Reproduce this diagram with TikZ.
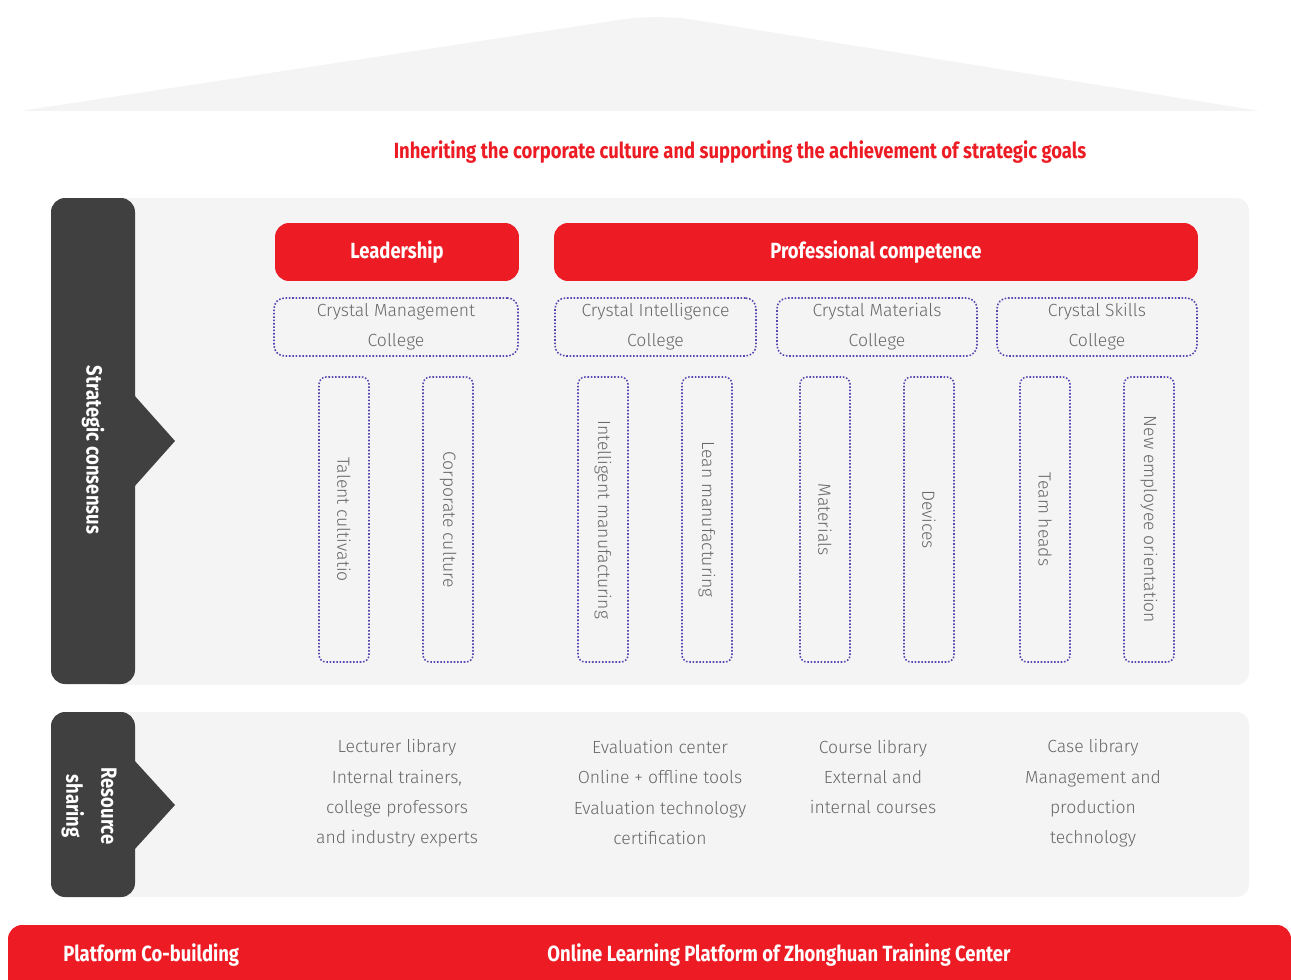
\documentclass[tikz,border=0pt]{standalone}
\usepackage{fontspec}
\setmainfont{Fira Sans}
\IfFontExistsTF{Fira Sans Light}{\newfontfamily\lightfont{Fira Sans Light}}{\newfontfamily\lightfont{Fira Sans}}
\newfontfamily\headfont{Fira Sans}[FakeStretch=0.84]
\definecolor{brandred}{RGB}{237,28,36}
\definecolor{bargray}{RGB}{64,64,64}
\definecolor{panelgray}{RGB}{244,244,244}
\definecolor{dotblue}{RGB}{84,72,176}
\definecolor{textgray}{RGB}{104,104,104}
\begin{document}
\begin{tikzpicture}[x=0.02cm, y=-0.02cm,
    redbox/.style={fill=brandred, rounded corners=8pt, text=white, inner sep=0pt,
        font=\headfont\bfseries\fontsize{12.5}{14}\selectfont, minimum height=1.16cm},
    college/.style={draw=dotblue, densely dotted, line width=0.9pt, rounded corners=6pt,
        align=center, text=textgray, inner sep=0pt, minimum height=1.16cm,
        font=\lightfont\fontsize{10}{17}\selectfont},
    track/.style={draw=dotblue, densely dotted, line width=0.9pt, rounded corners=4pt,
        rotate=-90, text=textgray, inner sep=0pt, minimum width=5.7cm, minimum height=1cm,
        font=\lightfont\fontsize{10}{12}\selectfont},
    resource/.style={align=center, text=textgray, font=\lightfont\fontsize{10}{17.2}\selectfont},
    sidelabel/.style={rotate=-90, align=center, text=white,
        font=\headfont\bfseries\fontsize{12.5}{20}\selectfont},
    bartext/.style={text=white, inner sep=0pt, font=\headfont\bfseries\fontsize{12.5}{14}\selectfont}]
    \useasboundingbox (0,0) rectangle (1291,980);
    \clip (0,0) rectangle (1291,980);

    % Techo
    \fill[panelgray] (20,111) [rounded corners=20pt] -- (658,14) [sharp corners] -- (1260,111) -- cycle;
    \node[text=brandred, font=\headfont\bfseries\fontsize{12.5}{14}\selectfont] (goal) at (740,152)
        {Inheriting the corporate culture and supporting the achievement of strategic goals};

    % Consenso estrategico
    \fill[panelgray, rounded corners=7pt] (100,198) rectangle (1249,685);
    \fill[bargray, rounded corners=8pt] (51,198) rectangle (135,684);
    \fill[bargray] (134,395) -- (175,441) -- (134,487) -- cycle;
    \node[sidelabel] (consensus) at (93,450) {Strategic consensus};

    \node[redbox, minimum width=4.88cm] (leader) at (397,252) {Leadership};
    \node[redbox, minimum width=12.88cm] (prof) at (876,252) {Professional competence};

    \node[college, minimum width=4.88cm] (mgmt) at (396,327) {Crystal Management\\College};
    \node[college, minimum width=4.02cm] (intel) at (655.5,327) {Crystal Intelligence\\College};
    \node[college, minimum width=4cm] (mater) at (877,327) {Crystal Materials\\College};
    \node[college, minimum width=4cm] (skills) at (1097,327) {Crystal Skills\\College};

    \node[track] (talent) at (344,519.5) {Talent cultivatio};
    \node[track] (corp) at (448,519.5) {Corporate culture};
    \node[track] (intman) at (603,519.5) {Intelligent manufacturing};
    \node[track] (lean) at (707,519.5) {Lean manufacturing};
    \node[track] (matls) at (825,519.5) {Materials};
    \node[track] (devices) at (929,519.5) {Devices};
    \node[track] (heads) at (1045,519.5) {Team heads};
    \node[track] (newemp) at (1149,519.5) {New employee orientation};

    % Recursos compartidos
    \fill[panelgray, rounded corners=7pt] (100,712) rectangle (1249,897);
    \fill[bargray, rounded corners=8pt] (51,712) rectangle (135,897);
    \fill[bargray] (134,760) -- (175,805) -- (134,850) -- cycle;
    \node[sidelabel] (sharing) at (89,806) {Resource\\sharing};

    \node[resource] (lecturer) at (397,793.5)
        {Lecturer library\\Internal trainers,\\college professors\\and industry experts};
    \node[resource] (evaluation) at (660,792.5)
        {Evaluation center\\Online + offline tools\\Evaluation technology\\certification};
    \node[resource] (course) at (873,777) {Course library\\External and\\internal courses};
    \node[resource] (case) at (1093,793.5)
        {Case library\\Management and\\production\\technology};

    % Plataforma
    \fill[brandred, rounded corners=8pt] (8,925) rectangle (1291,1010);
    \node[bartext, anchor=west] (cobuild) at (63,955) {Platform Co-building};
    \node[bartext] (online) at (779,955) {Online Learning Platform of Zhonghuan Training Center};
\end{tikzpicture}
\end{document}
